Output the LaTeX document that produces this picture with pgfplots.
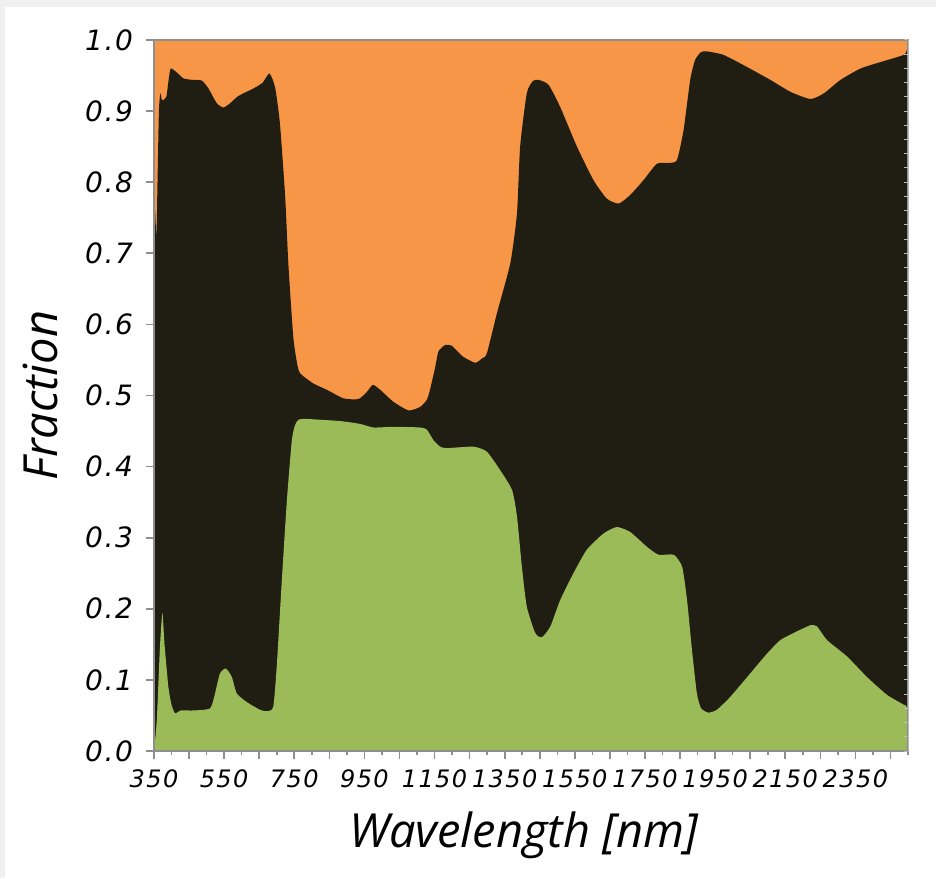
\documentclass[border=0pt]{standalone}
\usepackage{pgfplots}
\pgfplotsset{compat=1.18}
\usepackage{fontspec}
\setmainfont{DejaVu Sans}
\newfontfamily\tickfont[LetterSpace=6]{DejaVu Sans}
\newfontfamily\labelfont{Open Sans}

\definecolor{transm}{HTML}{F79646}
\definecolor{absorb}{HTML}{201D13}
\definecolor{refl}{HTML}{9BBB59}
\definecolor{axisgray}{HTML}{8E8E8E}

% upper edge of the black band (reflectance + absorptance)
\pgfplotstableread{
x y
350 0.775
353 0.760
357 0.726
360 0.800
364 0.900
368 0.925
373 0.915
385 0.920
392 0.945
398 0.960
418 0.953
434 0.946
457 0.944
486 0.943
505 0.932
529 0.911
548 0.905
567 0.911
590 0.921
638 0.933
660 0.940
679 0.953
695 0.934
709 0.883
724 0.780
733 0.686
747 0.583
758 0.545
767 0.531
804 0.517
843 0.508
890 0.496
933 0.495
957 0.505
974 0.515
995 0.508
1033 0.491
1076 0.479
1109 0.484
1128 0.494
1137 0.508
1152 0.540
1161 0.562
1180 0.571
1199 0.570
1230 0.555
1266 0.546
1285 0.552
1299 0.559
1328 0.616
1366 0.686
1385 0.756
1394 0.850
1413 0.925
1430 0.942
1446 0.944
1475 0.937
1508 0.906
1556 0.850
1603 0.803
1641 0.777
1675 0.770
1708 0.782
1746 0.803
1784 0.826
1817 0.827
1841 0.831
1860 0.873
1879 0.944
1893 0.972
1910 0.983
1927 0.984
1974 0.979
2041 0.962
2107 0.944
2165 0.927
2222 0.917
2260 0.925
2308 0.944
2365 0.960
2422 0.969
2488 0.979
2496 0.985
2500 0.990
}\absorbtop

% green band (reflectance)
\pgfplotstableread{
x y
350 0.000
358 0.044
367 0.147
374 0.194
380 0.150
391 0.090
400 0.065
410 0.053
426 0.057
462 0.057
510 0.060
524 0.081
538 0.109
555 0.116
572 0.104
586 0.081
614 0.069
652 0.058
672 0.056
690 0.062
700 0.119
714 0.236
729 0.353
743 0.437
752 0.458
762 0.466
786 0.467
881 0.464
938 0.460
976 0.455
1033 0.456
1109 0.455
1128 0.452
1147 0.437
1166 0.428
1185 0.426
1261 0.428
1299 0.421
1337 0.395
1371 0.367
1385 0.330
1399 0.259
1413 0.203
1437 0.166
1456 0.160
1480 0.175
1508 0.212
1546 0.250
1584 0.283
1632 0.306
1670 0.315
1708 0.308
1756 0.287
1789 0.276
1832 0.276
1856 0.259
1870 0.212
1884 0.142
1898 0.081
1910 0.060
1931 0.054
1955 0.058
1993 0.076
2050 0.109
2098 0.137
2136 0.156
2174 0.166
2222 0.177
2241 0.175
2269 0.156
2326 0.133
2383 0.104
2440 0.079
2488 0.065
2497 0.061
2500 0.020
}\refltop

\begin{document}
\begin{tikzpicture}
  \begin{axis}[
      name=main,
      scale only axis,
      width=377pt, height=355.5pt,
      xmin=350, xmax=2500, ymin=0, ymax=1,
      axis on top,
      axis line style={axisgray, line width=0.9pt},
      every tick/.style={axisgray, line width=0.8pt},
      tick align=outside,
      major tick length=4pt, minor tick length=2pt,
      xtick pos=bottom, ytick pos=left,
      xtick={350,450,...,2450},
      xticklabels={350,,550,,750,,950,,1150,,1350,,1550,,1750,,1950,,2150,,2350,},
      minor xtick={400,500,...,2500},
      ytick={0,0.1,...,1.0},
      /pgf/number format/assume math mode=true,
      yticklabel style={/pgf/number format/fixed,
        /pgf/number format/fixed zerofill,
        /pgf/number format/precision=1,
        font=\tickfont\itshape\fontsize{14}{16}\selectfont, xshift=-3pt},
      xticklabel style={font=\tickfont\itshape\fontsize{12}{14}\selectfont, yshift=-2pt},
      xlabel={Wavelength [nm]},
      ylabel={Fraction},
      label style={font=\labelfont\itshape\fontsize{23.5}{27}\selectfont},
      xlabel style={at={(axis description cs:0.49,-0.118)}, anchor=center},
      ylabel style={at={(axis description cs:-0.151,0.5)}, anchor=center},
    ]
    \addplot[draw=none, fill=transm] coordinates {(350,1) (2500,1)} \closedcycle;
    \addplot[draw=none, fill=absorb, smooth, tension=0.35] table {\absorbtop} \closedcycle;
    \addplot[draw=none, fill=refl, smooth, tension=0.35] table {\refltop} \closedcycle;
  \end{axis}
  % faint ticks on the right edge
  \begin{axis}[
      scale only axis,
      width=377pt, height=355.5pt,
      xmin=350, xmax=2500, ymin=0, ymax=1,
      axis x line=none,
      axis y line*=right,
      axis line style={axisgray!60, line width=0.5pt},
      ytick={0,0.02,...,1.0},
      yticklabels={},
      tick align=inside,
      major tick length=2pt,
      every tick/.style={axisgray!60, line width=0.5pt},
    ]
  \end{axis}
  \fill[gray!12] ([shift={(-77pt,372pt)}]main.south west) rectangle ([shift={(391pt,375.5pt)}]main.south west);
  \fill[gray!12] ([shift={(-77pt,-63.5pt)}]main.south west) rectangle ([shift={(-74.5pt,375.5pt)}]main.south west);
  \pgfresetboundingbox
  \path[use as bounding box] ([shift={(-77pt,-63.5pt)}]main.south west) rectangle ++(468pt,439pt);
\end{tikzpicture}
\end{document}
